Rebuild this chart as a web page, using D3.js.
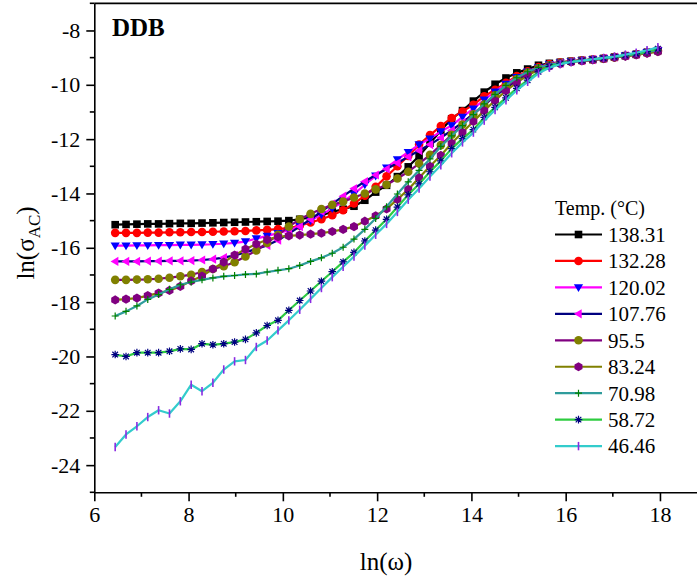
<!DOCTYPE html>
<html>
<head>
<meta charset="utf-8">
<script src="https://cdn.jsdelivr.net/npm/d3@7"></script>
<style>
  html, body { margin: 0; padding: 0; background: #fff; }
  svg { display: block; }
  text { font-family: "Liberation Serif", "Times New Roman", serif; fill: #000; }
</style>
</head>
<body>
<svg id="chart" width="697" height="583"></svg>
<script>
// ---------- DATA ----------
const lnOmega = [6.443, 6.673, 6.904, 7.134, 7.364, 7.595, 7.825, 8.055, 8.285, 8.516,
  8.746, 8.976, 9.207, 9.437, 9.667, 9.897, 10.127, 10.358, 10.588, 10.818,
  11.048, 11.279, 11.509, 11.739, 11.969, 12.200, 12.430, 12.660, 12.890, 13.121,
  13.351, 13.581, 13.811, 14.042, 14.272, 14.502, 14.733, 14.963, 15.193, 15.423,
  15.654, 15.884, 16.114, 16.344, 16.575, 16.805, 17.035, 17.266, 17.496, 17.726, 17.956];

const temperatures = ["138.31", "132.28", "120.02", "107.76", "95.5", "83.24", "70.98", "58.72", "46.46"];

const s13831 = [-15.15,-15.14,-15.13,-15.12,-15.12,-15.11,-15.10,-15.10,-15.09,-15.08,
  -15.07,-15.06,-15.05,-15.04,-15.03,-15.02,-15.00,-14.95,-14.88,-14.80,
  -14.68,-14.58,-14.47,-14.25,-13.95,-13.70,-13.38,-13.02,-12.62,-12.15,
  -11.68,-11.25,-10.95,-10.60,-10.27,-9.98,-9.75,-9.56,-9.42,-9.28,
  -9.21,-9.17,-9.13,-9.10,-9.07,-9.03,-8.98,-8.93,-8.88,-8.81,-8.74];
const s13228 = [-15.45,-15.45,-15.45,-15.44,-15.44,-15.43,-15.43,-15.42,-15.42,-15.41,
  -15.40,-15.39,-15.38,-15.36,-15.34,-15.31,-15.27,-15.19,-15.07,-14.95,
  -14.80,-14.62,-14.37,-14.08,-13.75,-13.37,-13.00,-12.62,-12.20,-11.85,
  -11.52,-11.22,-10.98,-10.74,-10.42,-10.18,-9.93,-9.68,-9.50,-9.35,
  -9.24,-9.18,-9.14,-9.10,-9.07,-9.03,-8.98,-8.93,-8.88,-8.81,-8.74];
const s12002 = [-15.92,-15.92,-15.91,-15.91,-15.90,-15.90,-15.89,-15.89,-15.88,-15.87,
  -15.85,-15.82,-15.77,-15.66,-15.56,-15.46,-15.35,-15.20,-15.00,-14.78,
  -14.55,-14.30,-14.02,-13.68,-13.35,-13.05,-12.75,-12.48,-12.20,-11.98,
  -11.72,-11.50,-11.18,-10.88,-10.55,-10.25,-9.97,-9.72,-9.52,-9.36,
  -9.25,-9.19,-9.14,-9.10,-9.07,-9.03,-8.98,-8.93,-8.88,-8.81,-8.74];
const s10776 = [-16.50,-16.50,-16.50,-16.49,-16.49,-16.48,-16.48,-16.47,-16.45,-16.42,
  -16.36,-16.28,-16.17,-16.04,-15.91,-15.72,-15.48,-15.22,-14.95,-14.66,
  -14.38,-14.10,-13.82,-13.56,-13.32,-13.10,-12.88,-12.65,-12.42,-12.20,
  -11.95,-11.68,-11.38,-11.07,-10.74,-10.42,-10.12,-9.84,-9.60,-9.42,
  -9.29,-9.21,-9.15,-9.11,-9.07,-9.03,-8.98,-8.93,-8.88,-8.81,-8.75];
const s955 = [-17.18,-17.18,-17.17,-17.16,-17.14,-17.10,-17.05,-16.99,-16.89,-16.78,
  -16.68,-16.53,-16.32,-16.10,-15.82,-15.52,-15.22,-14.95,-14.75,-14.57,
  -14.42,-14.30,-14.15,-14.00,-13.85,-13.68,-13.45,-13.20,-12.90,-12.58,
  -12.22,-11.84,-11.46,-11.09,-10.73,-10.39,-10.06,-9.79,-9.56,-9.39,
  -9.28,-9.21,-9.15,-9.11,-9.08,-9.04,-8.99,-8.94,-8.89,-8.83,-8.77];
const s8324 = [-17.92,-17.89,-17.85,-17.76,-17.67,-17.57,-17.42,-17.22,-17.04,-16.78,
  -16.53,-16.27,-16.05,-15.86,-15.70,-15.60,-15.56,-15.53,-15.50,-15.46,
  -15.40,-15.32,-15.22,-15.02,-14.82,-14.57,-14.22,-13.85,-13.42,-13.00,
  -12.60,-12.15,-11.75,-11.35,-10.95,-10.58,-10.22,-9.92,-9.65,-9.45,
  -9.31,-9.22,-9.16,-9.12,-9.08,-9.04,-8.99,-8.95,-8.90,-8.84,-8.78];
const s7098 = [-18.51,-18.34,-18.14,-17.90,-17.72,-17.53,-17.36,-17.26,-17.18,-17.11,
  -17.05,-17.02,-16.98,-16.96,-16.89,-16.83,-16.77,-16.65,-16.50,-16.37,
  -16.20,-15.98,-15.68,-15.32,-14.92,-14.49,-14.02,-13.57,-13.15,-12.73,
  -12.27,-11.88,-11.50,-11.10,-10.70,-10.35,-10.02,-9.74,-9.52,-9.36,
  -9.26,-9.20,-9.15,-9.11,-9.07,-9.03,-8.98,-8.93,-8.87,-8.80,-8.72];
const s5872 = [-19.93,-20.00,-19.86,-19.86,-19.86,-19.81,-19.72,-19.74,-19.53,-19.57,
  -19.53,-19.47,-19.37,-19.13,-18.86,-18.67,-18.30,-17.94,-17.59,-17.23,
  -16.88,-16.52,-16.17,-15.75,-15.35,-14.95,-14.50,-14.05,-13.65,-13.20,
  -12.80,-12.35,-11.98,-11.65,-11.20,-10.83,-10.48,-10.13,-9.83,-9.52,
  -9.33,-9.22,-9.15,-9.10,-9.06,-9.02,-8.97,-8.91,-8.85,-8.77,-8.67];
const s4646 = [-23.33,-22.87,-22.57,-22.23,-21.98,-22.10,-21.65,-21.04,-21.28,-20.97,
  -20.48,-20.18,-20.13,-19.65,-19.41,-19.04,-18.67,-18.28,-17.88,-17.48,
  -17.08,-16.70,-16.32,-15.92,-15.52,-15.12,-14.68,-14.23,-13.82,-13.38,
  -12.96,-12.52,-12.12,-11.76,-11.32,-10.93,-10.57,-10.20,-9.89,-9.58,
  -9.37,-9.24,-9.16,-9.11,-9.06,-9.01,-8.96,-8.89,-8.82,-8.73,-8.62];

const seriesValues = [s13831, s13228, s12002, s10776, s955, s8324, s7098, s5872, s4646];

const xTickValues = [6, 8, 10, 12, 14, 16, 18];
const xMinorValues = [7, 9, 11, 13, 15, 17, 19];
const yTickValues = [-24, -22, -20, -18, -16, -14, -12, -10, -8];
const yMinorValues = [-25, -23, -21, -19, -17, -15, -13, -11, -9, -7];

// ---------- STYLE ----------
const styles = [
  { line: "#000000", fill: "#000000", stroke: "none", shape: "square" },
  { line: "#ff0000", fill: "#ff0000", stroke: "none", shape: "circle" },
  { line: "#ff00ff", fill: "#0000ff", stroke: "none", shape: "triDown" },
  { line: "#000080", fill: "#ff00ff", stroke: "none", shape: "triLeft" },
  { line: "#800080", fill: "#808000", stroke: "none", shape: "circle" },
  { line: "#808000", fill: "#800080", stroke: "none", shape: "hexagon" },
  { line: "#2f9c9c", fill: "none", stroke: "#008000", shape: "plus" },
  { line: "#2ecc40", fill: "none", stroke: "#000080", shape: "asterisk" },
  { line: "#33cccc", fill: "none", stroke: "#8a2be2", shape: "vbar" }
];

function markerPath(shape) {
  switch (shape) {
    case "square": return "M-3.8,-3.8H3.8V3.8H-3.8Z";
    case "circle": return d3.symbol(d3.symbolCircle, 58)();
    case "triDown": return "M-4.6,-3.2L4.6,-3.2L0,4.6Z";
    case "triLeft": return "M3.2,-4.6L3.2,4.6L-4.6,0Z";
    case "hexagon": {
      const r = 4.6, pts = [];
      for (let k = 0; k < 6; k++) {
        const a = Math.PI / 6 + k * Math.PI / 3;
        pts.push([r * Math.cos(a), r * Math.sin(a)]);
      }
      return "M" + pts.map(p => p[0].toFixed(2) + "," + p[1].toFixed(2)).join("L") + "Z";
    }
    case "plus": return "M-3.5,0H3.5M0,-3.5V3.5";
    case "asterisk": return "M-3.8,0H3.8M0,-3.8V3.8M-2.8,-2.8L2.8,2.8M-2.8,2.8L2.8,-2.8";
    case "vbar": return "M0,-4.2V4.2";
  }
}

// ---------- CHART ----------
const svg = d3.select("#chart");
svg.append("rect").attr("width", 697).attr("height", 583).attr("fill", "#fff");

const x = d3.scaleLinear().domain([6, 19]).range([94.3, 707.1]);
const y = d3.scaleLinear().domain([-25, -7]).range([492.3, 3.3]);

// series
const line = d3.line().x((d, i) => x(lnOmega[i])).y(d => y(d));
seriesValues.forEach((vals, si) => {
  const st = styles[si];
  const g = svg.append("g");
  g.append("path").attr("d", line(vals))
    .attr("fill", "none").attr("stroke", st.line).attr("stroke-width", 2.2)
    .attr("stroke-linejoin", "round");
  g.selectAll("path.m").data(vals).enter().append("path").attr("class", "m")
    .attr("transform", (d, i) => `translate(${x(lnOmega[i])},${y(d)})`)
    .attr("d", markerPath(st.shape))
    .attr("fill", st.fill)
    .attr("stroke", st.stroke)
    .attr("stroke-width", st.shape === "vbar" ? 1.6 : 1.2);
});

// axes
const xAxis = d3.axisBottom(x).tickValues(xTickValues).tickSize(9).tickSizeOuter(0).tickPadding(5)
  .tickFormat(d3.format("d"));
const gx = svg.append("g").attr("transform", "translate(0,492.3)").call(xAxis);
gx.selectAll("text").style("font-size", "22px").attr("font-family", "Liberation Serif, Times New Roman, serif");
gx.selectAll("line, path").attr("stroke", "#000").attr("stroke-width", 1.6);
gx.selectAll("line.minor").data(xMinorValues).enter().append("line").attr("class", "minor")
  .attr("x1", d => x(d)).attr("x2", d => x(d)).attr("y1", 0).attr("y2", 4.5)
  .attr("stroke", "#000").attr("stroke-width", 1.6);

const yAxis = d3.axisLeft(y).tickValues(yTickValues).tickSize(8).tickSizeOuter(0).tickPadding(6)
  .tickFormat(d => String(d).replace("\u2212", "-"));
const gy = svg.append("g").attr("transform", "translate(94.3,0)").call(yAxis);
gy.selectAll("text").style("font-size", "22px").attr("font-family", "Liberation Serif, Times New Roman, serif");
gy.selectAll("line, path").attr("stroke", "#000").attr("stroke-width", 1.6);
gy.selectAll("line.minor").data(yMinorValues).enter().append("line").attr("class", "minor")
  .attr("y1", d => y(d)).attr("y2", d => y(d)).attr("x1", 0).attr("x2", -4.5)
  .attr("stroke", "#000").attr("stroke-width", 1.6);

// top frame line
svg.append("line").attr("x1", x(6)).attr("x2", 697).attr("y1", y(-7)).attr("y2", y(-7))
  .attr("stroke", "#000").attr("stroke-width", 1.8);

// axis titles
svg.append("text").attr("x", 386).attr("y", 570).attr("text-anchor", "middle")
  .style("font-size", "25px").text("ln(\u03c9)");
const yt = svg.append("text").attr("transform", "translate(34,243) rotate(-90)")
  .attr("text-anchor", "middle").style("font-size", "25px");
yt.append("tspan").text("ln(\u03c3");
yt.append("tspan").attr("dy", 6).style("font-size", "17px").text("AC");
yt.append("tspan").attr("dy", -6).text(")");

// panel label
svg.append("text").attr("x", 112).attr("y", 36).style("font-size", "25px")
  .style("font-weight", "bold").text("DDB");

// legend
const legend = svg.append("g");
legend.append("text").attr("x", 555).attr("y", 215).style("font-size", "20px").text("Temp. (\u00b0C)");
temperatures.forEach((t, k) => {
  const st = styles[k];
  const ly = 234.5 + k * 26.45;
  legend.append("line").attr("x1", 555).attr("x2", 602).attr("y1", ly).attr("y2", ly)
    .attr("stroke", st.line).attr("stroke-width", 2.2);
  legend.append("path").attr("transform", `translate(578.5,${ly})`).attr("d", markerPath(st.shape))
    .attr("fill", st.fill).attr("stroke", st.stroke).attr("stroke-width", st.shape === "vbar" ? 1.6 : 1.2);
  legend.append("text").attr("x", 608).attr("y", ly).attr("dy", "0.35em")
    .style("font-size", "21px").text(t);
});
</script>
</body>
</html>
